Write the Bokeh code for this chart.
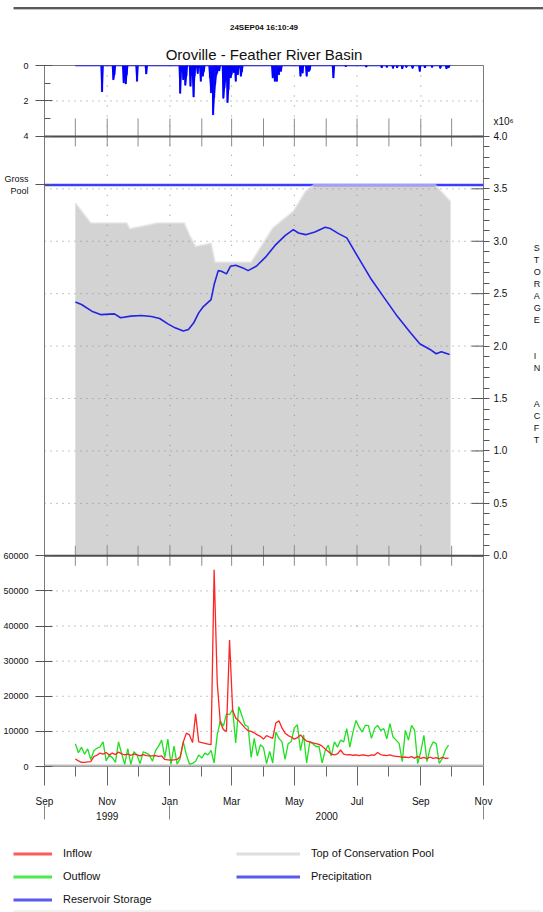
import numpy as np
import pandas as pd
from bokeh.plotting import figure
from bokeh.models import Range1d, LinearAxis, FixedTicker, Legend, LegendItem, Title
from bokeh.layouts import column
from bokeh.embed import file_html
from bokeh.resources import INLINE

FONT = "Liberation Sans"

# ------------------------------------------------------------------ data
storage_dates = ["1999-10-01", "1999-10-07", "1999-10-17", "1999-10-26", "1999-11-08", "1999-11-14",
                 "1999-11-24", "1999-12-04", "1999-12-14", "1999-12-22", "1999-12-30", "2000-01-06",
                 "2000-01-14", "2000-01-19", "2000-01-24", "2000-01-29", "2000-02-02", "2000-02-10",
                 "2000-02-13", "2000-02-17", "2000-02-20", "2000-02-25", "2000-02-29", "2000-03-05",
                 "2000-03-12", "2000-03-17", "2000-03-25", "2000-04-03", "2000-04-13", "2000-04-22",
                 "2000-04-30", "2000-05-05", "2000-05-12", "2000-05-21", "2000-05-31", "2000-06-05",
                 "2000-06-13", "2000-06-21", "2000-07-02", "2000-07-14", "2000-07-27", "2000-08-09",
                 "2000-08-22", "2000-08-31", "2000-09-10", "2000-09-16", "2000-09-21", "2000-09-29"]
storage_af = [2420000, 2397000, 2333000, 2300000, 2307000, 2270000,
              2286000, 2292000, 2283000, 2263000, 2212000, 2174000,
              2143000, 2159000, 2220000, 2317000, 2371000, 2444000,
              2587000, 2720000, 2714000, 2689000, 2762000, 2771000,
              2746000, 2720000, 2762000, 2848000, 2968000, 3054000,
              3111000, 3079000, 3063000, 3089000, 3133000, 3121000,
              3073000, 3032000, 2848000, 2650000, 2467000, 2286000,
              2127000, 2022000, 1968000, 1927000, 1946000, 1920000]

toc_dates = ["1999-10-01", "1999-10-16", "1999-11-20", "1999-11-23", "1999-12-20", "2000-01-15",
             "2000-01-20", "2000-01-26", "2000-02-10", "2000-02-14", "2000-03-20", "2000-04-10",
             "2000-04-30", "2000-05-12", "2000-05-20", "2000-09-15", "2000-09-30"]
toc_af = [3365000, 3175000, 3175000, 3120000, 3175000, 3175000,
          3060000, 2950000, 2980000, 2800000, 2800000, 3127000,
          3286000, 3476000, 3537000, 3537000, 3380000]

gross_pool_af = 3537000
gross_pool_label = "Gross\nPool"

precip_dates = ["1999-10-27", "1999-11-07", "1999-11-08", "1999-11-17", "1999-11-19", "1999-11-20",
                "1999-11-30", "1999-12-09", "2000-01-11", "2000-01-12", "2000-01-14", "2000-01-16",
                "2000-01-17", "2000-01-21", "2000-01-23", "2000-01-24", "2000-01-25", "2000-01-28",
                "2000-01-31", "2000-02-02", "2000-02-03", "2000-02-09", "2000-02-10", "2000-02-12",
                "2000-02-13", "2000-02-14", "2000-02-15", "2000-02-16", "2000-02-18", "2000-02-22",
                "2000-02-23", "2000-02-24", "2000-02-26", "2000-02-27", "2000-02-29", "2000-03-01",
                "2000-03-03", "2000-03-05", "2000-03-07", "2000-03-10", "2000-03-11", "2000-04-10",
                "2000-04-12", "2000-04-13", "2000-04-14", "2000-04-16", "2000-04-18", "2000-05-07",
                "2000-05-09", "2000-05-13", "2000-05-15", "2000-05-16", "2000-06-08", "2000-06-20",
                "2000-07-10", "2000-07-25", "2000-07-30", "2000-08-05", "2000-08-09", "2000-08-14",
                "2000-08-18", "2000-08-24", "2000-08-31", "2000-09-05", "2000-09-12", "2000-09-20",
                "2000-09-26", "2000-09-28"]
precip_in = [1.48, 0.80, 0.52, 0.98, 1.04, 0.52,
             0.89, 0.48, 1.57, 0.35, 0.80, 1.11,
             0.60, 1.17, 0.55, 1.78, 0.60, 0.45,
             0.89, 0.60, 0.33, 0.70, 1.54, 2.78,
             1.80, 1.07, 0.55, 0.40, 0.30, 1.85,
             1.26, 0.80, 2.09, 1.35, 0.70, 0.50,
             0.40, 0.89, 0.52, 0.60, 0.35, 0.70,
             0.89, 0.60, 0.89, 0.52, 0.33, 0.60,
             0.43, 0.60, 0.33, 0.25, 0.70, 0.05,
             0.08, 0.12, 0.10, 0.15, 0.12, 0.18,
             0.10, 0.15, 0.33, 0.12, 0.10, 0.15,
             0.18, 0.12]
precip_period = ("1999-10-01", "2000-09-30")

flow_start = "1999-10-01"
flow_step = "3D"
inflow_cfs = [2150, 1600, 1200, 1200, 1300, 1400, 2800, 3200, 3800, 3500,
              4000, 3300, 3800, 3400, 4100, 3600, 3300, 3500, 3200, 3600,
              3300, 3000, 3400, 3100, 3000, 3000, 3100, 2900, 3000, 2000,
              1900, 1800, 1900, 2000, 2800, 7000, 9500, 9000, 6800, 15000,
              7000, 6800, 6600, 6400, 6200, 56000, 24000, 12500, 10500, 10000,
              36000, 16000, 13800, 13000, 12000, 11000, 10200, 10000, 9600, 9000,
              8600, 7800, 8800, 8400, 8000, 12400, 13000, 11000, 9500, 8800,
              8400, 7800, 8200, 9000, 8000, 7200, 7000, 6700, 6500, 6300,
              5800, 5000, 4300, 3500, 3300, 3600, 4700, 3500, 3300, 3400,
              3200, 3300, 3100, 3300, 3200, 3000, 3300, 3200, 4000, 3400,
              3200, 3100, 3300, 3000, 2900, 2800, 2600, 2700, 2500, 2800,
              2400, 2900, 2300, 2600, 2200, 2700, 2300, 2500, 2200, 2600,
              2300, 2400]
outflow_cfs = [6500, 3900, 5500, 3500, 5000, 2000, 4500, 5200, 5600, 7000,
               1600, 3300, 2500, 1200, 7000, 3700, 600, 5100, 600, 4200,
               3300, 800, 4200, 3800, 3300, 1500, 4500, 5800, 7500, 2500,
               7800, 600, 5800, 700, 2300, 7000, 3300, 700, 900, 1500,
               3300, 2400, 3800, 3300, 4600, 1000, 9000, 12900, 11500, 15000,
               14800, 16200, 6700, 17000, 14500, 11800, 11400, 2600, 8000, 3000,
               6200, 5400, 800, 4300, 1000, 9800, 8000, 7000, 2000, 6500,
               7100, 11000, 11900, 4500, 9000, 1000, 7000, 6500, 5700, 5700,
               1000, 4500, 6100, 3000, 7000, 5500, 7500, 7000, 10800, 5500,
               9800, 13100, 11200, 9800, 11700, 11700, 8000, 10800, 11700, 10300,
               10800, 7900, 12200, 8400, 7500, 6500, 1400, 10300, 7500, 11700,
               10300, 800, 4200, 8900, 1400, 5100, 7000, 6500, 900, 2300,
               4700, 6100]

x_period = ("1999-09-01", "2000-11-01")
month_label_dates = ["1999-09-01", "1999-11-01", "2000-01-01", "2000-03-01",
                     "2000-05-01", "2000-07-01", "2000-09-01", "2000-11-01"]
month_labels = ["Sep", "Nov", "Jan", "Mar", "May", "Jul", "Sep", "Nov"]
minor_month_dates = ["1999-10-01", "1999-12-01", "2000-02-01", "2000-04-01",
                     "2000-06-01", "2000-08-01", "2000-10-01"]
year_bounds = ["1999-09-01", "2000-01-01", "2000-11-01"]
year_labels = ["1999", "2000"]

flow_ticks = [0, 10000, 20000, 30000, 40000, 50000, 60000]
flow_tick_labels = ["0", "10000", "20000", "30000", "40000", "50000", "60000"]
storage_ticks = [0, 500000, 1000000, 1500000, 2000000, 2500000, 3000000, 3500000, 4000000]
storage_tick_labels = ["0.0", "0.5", "1.0", "1.5", "2.0", "2.5", "3.0", "3.5", "4.0"]
storage_scale_label = "x10\u2076"
storage_title = "STORAGE IN ACFT"
precip_ticks = [0, 2, 4]
precip_tick_labels = ["0", "2", "4"]

# ------------------------------------------------------------------ helpers
def ms(dates):
    return [int(v) for v in (pd.DatetimeIndex(pd.to_datetime(list(dates))).asi8 // 10**6)]

X0, X1 = ms(x_period)
DAY = 86400000

# layout (px): header strip, main plot, legend strip; frame borders; panel heights
W, H_TOP, H_MAIN, H_LEG = 543, 10, 825, 77
BL, BR, BT = 42, 56, 54
HP, HS, HF = 71, 420, 211
HT = HP + HS + HF
BB = H_MAIN - BT - HT
PX_PER_DAY = (W - BL - BR) / ((X1 - X0) / DAY)
FLOW_MAX, STOR_MAX, PREC_MAX = flow_ticks[-1], storage_ticks[-1], precip_ticks[-1]

flow_range = Range1d(0, FLOW_MAX * HT / HF)
stor_range = Range1d(-HF * STOR_MAX / HS, (HT - HF) * STOR_MAX / HS)
prec_range = Range1d(HT * PREC_MAX / HP, 0)

def prec_to_flow(v):
    return (HT - v * HP / PREC_MAX) * FLOW_MAX / HF

def stor_to_flow(v):
    return (HF + v * HS / STOR_MAX) * FLOW_MAX / HF

# ---- header rule strip
top = figure(width=W, height=H_TOP, x_range=Range1d(0, W), y_range=Range1d(0, H_TOP),
             x_axis_type=None, y_axis_type=None, output_backend="svg", toolbar_location=None,
             min_border=0, min_border_left=0, min_border_right=0, min_border_top=0,
             min_border_bottom=0, outline_line_color=None)
top.frame_align = False
top.segment(x0=13, x1=W, y0=H_TOP - 5.5, y1=H_TOP - 5.5, line_color="#5a5a5a", line_width=2)
top.segment(x0=13, x1=W, y0=H_TOP - 7.5, y1=H_TOP - 7.5, line_color="#b0b0b0", line_width=1.5)

# ---- main plot
p = figure(width=W, height=H_MAIN, x_range=Range1d(X0, X1), y_range=flow_range,
           x_axis_type=None, y_axis_type=None, output_backend="svg", toolbar_location=None,
           min_border_left=BL, min_border_right=BR, min_border_top=BT, min_border_bottom=BB,
           title=None, outline_line_color="#7a7a7a",
           background_fill_color="white", border_fill_color="white")
p.frame_align = False
p.extra_y_ranges = {"stor": stor_range, "prec": prec_range}

p.add_layout(Title(text="Oroville - Feather River Basin", align="center", text_font=FONT,
                   text_font_size="15px", text_font_style="normal", text_color="#111111",
                   standoff=5), "above")
p.add_layout(Title(text="24SEP04 16:10:49", align="center", text_font=FONT, text_font_size="8px",
                   text_font_style="bold", text_color="#111111", standoff=20), "above")

GRID = dict(line_color="#8c8c8c", line_dash="1 5", line_width=1)
TICK = dict(line_color="#8c8c8c", line_width=1)
all_month_ms = sorted(ms(month_label_dates[1:-1]) + ms(minor_month_dates))
grid_month_ms = ms(month_label_dates[1:-1])

# storage panel background (top of conservation pool)
toc_x = ms(toc_dates)
p.varea(x=toc_x, y1=0, y2=toc_af, y_range_name="stor", fill_color="#d3d3d3")

# horizontal dotted grids
p.segment(x0=X0, x1=X1, y0=storage_ticks[1:-1], y1=storage_ticks[1:-1], y_range_name="stor", **GRID)
p.segment(x0=X0, x1=X1, y0=flow_ticks[1:-1], y1=flow_ticks[1:-1], **GRID)
p.segment(x0=X0, x1=X1, y0=precip_ticks[1:-1], y1=precip_ticks[1:-1], y_range_name="prec", **GRID)
# vertical dotted grids per panel
p.segment(x0=grid_month_ms, x1=grid_month_ms, y0=0, y1=STOR_MAX, y_range_name="stor",
          line_color="#8c8c8c", line_dash="1 9", line_width=1)
p.segment(x0=grid_month_ms, x1=grid_month_ms, y0=0, y1=FLOW_MAX,
          line_color="#8c8c8c", line_dash="1 34", line_width=1)
p.segment(x0=grid_month_ms, x1=grid_month_ms, y0=0, y1=PREC_MAX, y_range_name="prec",
          line_color="#8c8c8c", line_dash="1 9", line_width=1)
# month ticks on the inner panel borders
TP = 10  # px
p.segment(x0=all_month_ms, x1=all_month_ms, y0=PREC_MAX, y1=PREC_MAX - 18 * PREC_MAX / HP,
          y_range_name="prec", **TICK)
p.segment(x0=all_month_ms, x1=all_month_ms, y0=STOR_MAX, y1=STOR_MAX - TP * STOR_MAX / HS,
          y_range_name="stor", **TICK)
p.segment(x0=all_month_ms, x1=all_month_ms, y0=0, y1=TP * STOR_MAX / HS,
          y_range_name="stor", **TICK)
p.segment(x0=all_month_ms, x1=all_month_ms, y0=FLOW_MAX, y1=FLOW_MAX - TP * FLOW_MAX / HF, **TICK)
# inner part of the storage axis major ticks
p.segment(x0=X1 - 12 / PX_PER_DAY * DAY, x1=X1, y0=storage_ticks, y1=storage_ticks,
          y_range_name="stor", line_color="#555555", line_width=1)

# gross pool, conservation pool line and storage
p.segment(x0=X0, x1=X1, y0=gross_pool_af, y1=gross_pool_af, y_range_name="stor",
          line_color="#3c3cff", line_width=2.5)
p.line(toc_x, toc_af, y_range_name="stor", line_color="#e4e4e4", line_width=2, line_alpha=0.6)
p.line(ms(storage_dates), storage_af, y_range_name="stor", line_color="#2323e6", line_width=1.6)

# precipitation panel
days = pd.date_range(*precip_period, freq="D")
daily = pd.Series(0.0, index=days)
daily.loc[pd.to_datetime(precip_dates)] = precip_in
p.vbar(x=ms(precip_dates), top=precip_in, bottom=0, width=1.3 * DAY, y_range_name="prec",
       fill_color="#0000ff", line_color="#0000ff", line_width=0.5)
p.line(ms(days), daily.values, y_range_name="prec", line_color="#0000ff", line_width=1.4)

# flow panel
flow_x = ms(pd.date_range(flow_start, periods=len(inflow_cfs), freq=flow_step))
p.segment(x0=X0, x1=X1, y0=0, y1=0, line_color="#bdbdbd", line_width=4)
p.line(flow_x, outflow_cfs, line_color="#1fe01f", line_width=1.3)
p.line(flow_x, inflow_cfs, line_color="#ff2525", line_width=1.3)

# panel separators
p.segment(x0=X0, x1=X1, y0=[0, STOR_MAX], y1=[0, STOR_MAX], y_range_name="stor",
          line_color="#4d4d4d", line_width=2)

# ---- axes
prec_pos = [int(prec_to_flow(v)) for v in precip_ticks]
prec_minor = [int(prec_to_flow(v)) for v in (1, 3)]
gp_pos = int(stor_to_flow(gross_pool_af))
overrides = dict(zip(flow_ticks, flow_tick_labels))
overrides.update(dict(zip(prec_pos, precip_tick_labels)))
overrides[gp_pos] = gross_pool_label
left = LinearAxis(ticker=FixedTicker(ticks=flow_ticks + prec_pos + [gp_pos], minor_ticks=prec_minor),
                  major_label_overrides=overrides, major_tick_in=8, major_tick_out=9,
                  minor_tick_in=6, minor_tick_out=0, major_label_standoff=7, axis_line_color=None,
                  major_tick_line_color="#555555", minor_tick_line_color="#555555",
                  major_label_text_font=FONT, major_label_text_font_size="9px",
                  major_label_text_color="#111111")
p.add_layout(left, "left")

scale_pos = int(STOR_MAX + 15 * STOR_MAX / HS)
r_ticks = storage_ticks + [scale_pos]
r_labels = dict(zip(storage_ticks, storage_tick_labels))
r_labels[scale_pos] = storage_scale_label
# stacked upright letters; trailing blank lines lift the block toward the storage panel centre
axis_title_text = "\n".join(storage_title.replace(" ", "  ")) + "\n " * 12
right = LinearAxis(y_range_name="stor", bounds=(0, scale_pos),
                   ticker=FixedTicker(ticks=r_ticks, minor_ticks=[k * 100000 for k in range(41)]),
                   major_label_overrides=r_labels,
                   major_tick_in=0, major_tick_out=6, minor_tick_in=0, minor_tick_out=6,
                   major_label_standoff=4, axis_line_color=None,
                   major_tick_line_color=None, minor_tick_line_color="#555555",
                   major_label_text_font=FONT, major_label_text_font_size="10px",
                   major_label_text_color="#111111",
                   axis_label=axis_title_text, axis_label_orientation="horizontal",
                   axis_label_standoff=17, axis_label_text_font=FONT,
                   axis_label_text_font_size="9px", axis_label_text_font_style="normal",
                   axis_label_text_color="#111111")
p.add_layout(right, "right")

mt = ms(month_label_dates)
bottom = LinearAxis(ticker=FixedTicker(ticks=mt, minor_ticks=ms(minor_month_dates)),
                    major_label_overrides=dict(zip(mt, month_labels)),
                    major_tick_in=0, major_tick_out=19, minor_tick_in=0, minor_tick_out=10,
                    major_label_standoff=10, axis_line_color=None,
                    major_tick_line_color="#666666", minor_tick_line_color="#666666",
                    major_label_text_font=FONT, major_label_text_font_size="10px",
                    major_label_text_color="#111111")
p.add_layout(bottom, "below")

yb = ms(year_bounds)
year_mids = [(a + b) // 2 for a, b in zip(yb[:-1], yb[1:])]
years = LinearAxis(ticker=FixedTicker(ticks=year_mids, minor_ticks=yb),
                   major_label_overrides=dict(zip(year_mids, year_labels)),
                   major_tick_in=0, major_tick_out=0, minor_tick_in=4, minor_tick_out=10,
                   major_label_standoff=-8, axis_line_color=None,
                   minor_tick_line_color="#888888",
                   major_label_text_font=FONT, major_label_text_font_size="10px",
                   major_label_text_color="#111111")
p.add_layout(years, "below")

# ---- legend strip
lg = figure(width=W, height=H_LEG, x_range=Range1d(0, W), y_range=Range1d(0, H_LEG),
            x_axis_type=None, y_axis_type=None, output_backend="svg", toolbar_location=None,
            min_border=0, min_border_left=0, min_border_right=0, min_border_top=0,
            min_border_bottom=0, outline_line_color=None)
lg.frame_align = False
OFF = dict(x=[-20, -10], y=[-20, -10], line_width=3)
r_in = lg.line(line_color="#ff5a5a", **OFF)
r_out = lg.line(line_color="#4dea4d", **OFF)
r_sto = lg.line(line_color="#5a5aee", **OFF)
r_toc = lg.line(line_color="#dedede", **OFF)
r_pre = lg.line(line_color="#5a5aee", **OFF)
lg.segment(x0=13, x1=540, y0=1.5, y1=1.5, line_color="#e2e2e2", line_width=1)

LEG = dict(glyph_height=13, label_height=13, spacing=10, padding=0, margin=0, label_standoff=11,
           border_line_color=None, background_fill_alpha=0, label_text_font=FONT,
           label_text_font_size="11px", label_text_color="#111111")
leg1 = Legend(items=[LegendItem(label="Inflow", renderers=[r_in]),
                     LegendItem(label="Outflow", renderers=[r_out]),
                     LegendItem(label="Reservoir Storage", renderers=[r_sto])],
              location=(13, 6.5), glyph_width=39, **LEG)
leg2 = Legend(items=[LegendItem(label="Top of Conservation Pool", renderers=[r_toc]),
                     LegendItem(label="Precipitation", renderers=[r_pre])],
              location=(236, 29.5), glyph_width=64, **LEG)
lg.add_layout(leg1)
lg.add_layout(leg2)

layout = column(top, p, lg, spacing=0)
open("out.html", "w").write(file_html(layout, INLINE))
